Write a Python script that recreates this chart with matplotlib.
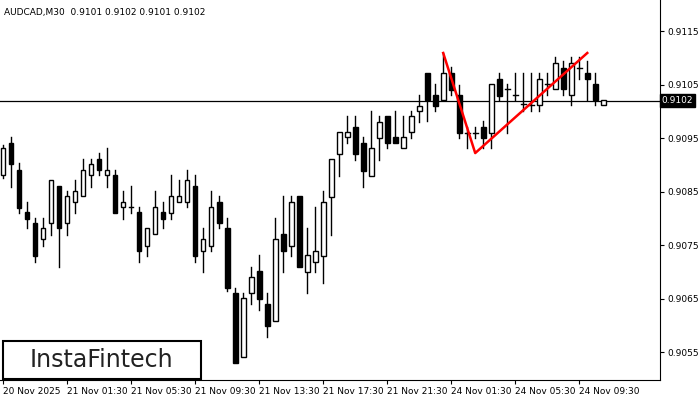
import matplotlib.pyplot as plt
from matplotlib.patches import Rectangle

# 30-minute AUDCAD candles
opens = [0.90881, 0.90941, 0.90890, 0.90812, 0.90791, 0.90761, 0.90791, 0.90860, 0.90791, 0.90831,
         0.90842, 0.90881, 0.90911, 0.90881, 0.90881, 0.90821, 0.90821, 0.90812, 0.90748, 0.90771,
         0.90812, 0.90810, 0.90831, 0.90831, 0.90860, 0.90739, 0.90748, 0.90831, 0.90782, 0.90660,
         0.90541, 0.90660, 0.90701, 0.90640, 0.90608, 0.90771, 0.90748, 0.90842, 0.90700, 0.90718,
         0.90730, 0.90840, 0.90920, 0.90952, 0.90971, 0.90941, 0.90879, 0.90950, 0.90991, 0.90952,
         0.90931, 0.90961, 0.91001, 0.91072, 0.91031, 0.91021, 0.91072, 0.91031, 0.90960, 0.90960,
         0.90971, 0.90960, 0.91061, 0.91042, 0.91031, 0.91014, 0.91012, 0.91012, 0.91051, 0.91042,
         0.91081, 0.91031, 0.91081, 0.91072, 0.91051, 0.91012]
closes = [0.90931, 0.90902, 0.90819, 0.90799, 0.90730, 0.90782, 0.90872, 0.90782, 0.90842, 0.90851,
          0.90890, 0.90902, 0.90890, 0.90890, 0.90810, 0.90831, 0.90821, 0.90739, 0.90782, 0.90821,
          0.90799, 0.90842, 0.90842, 0.90872, 0.90730, 0.90761, 0.90821, 0.90791, 0.90670, 0.90530,
          0.90651, 0.90690, 0.90649, 0.90599, 0.90761, 0.90739, 0.90831, 0.90709, 0.90731, 0.90739,
          0.90831, 0.90911, 0.90961, 0.90961, 0.90920, 0.90888, 0.90931, 0.90980, 0.90941, 0.90941,
          0.90952, 0.90991, 0.91010, 0.91021, 0.91010, 0.91072, 0.91040, 0.90960, 0.90960, 0.90960,
          0.90950, 0.91051, 0.91029, 0.91042, 0.91031, 0.91014, 0.91012, 0.91061, 0.91051, 0.91090,
          0.91042, 0.91090, 0.91081, 0.91061, 0.91021, 0.91021]
highs = [0.90937, 0.90952, 0.90903, 0.90831, 0.90801, 0.90801, 0.90872, 0.90860, 0.90851, 0.90872,
         0.90911, 0.90911, 0.90922, 0.90931, 0.90890, 0.90851, 0.90860, 0.90821, 0.90782, 0.90851,
         0.90831, 0.90881, 0.90872, 0.90890, 0.90881, 0.90782, 0.90851, 0.90842, 0.90801, 0.90670,
         0.90660, 0.90710, 0.90731, 0.90660, 0.90801, 0.90842, 0.90842, 0.90842, 0.90782, 0.90821,
         0.90851, 0.90911, 0.90961, 0.90991, 0.90991, 0.90952, 0.91001, 0.90991, 0.90991, 0.91001,
         0.90991, 0.91001, 0.91031, 0.91072, 0.91051, 0.91109, 0.91083, 0.91049, 0.90971, 0.90971,
         0.90982, 0.91051, 0.91072, 0.91051, 0.91072, 0.91072, 0.91072, 0.91072, 0.91072, 0.91102,
         0.91094, 0.91102, 0.91102, 0.91094, 0.91072, 0.91021]
lows = [0.90875, 0.90859, 0.90810, 0.90782, 0.90718, 0.90748, 0.90769, 0.90709, 0.90769, 0.90810,
        0.90842, 0.90859, 0.90881, 0.90859, 0.90810, 0.90799, 0.90810, 0.90718, 0.90730, 0.90771,
        0.90782, 0.90799, 0.90831, 0.90821, 0.90718, 0.90699, 0.90739, 0.90782, 0.90665, 0.90530,
        0.90541, 0.90640, 0.90629, 0.90578, 0.90608, 0.90700, 0.90730, 0.90709, 0.90660, 0.90700,
        0.90679, 0.90769, 0.90879, 0.90940, 0.90909, 0.90859, 0.90879, 0.90909, 0.90931, 0.90941,
        0.90931, 0.90950, 0.90980, 0.90982, 0.91001, 0.91021, 0.91030, 0.90950, 0.90931, 0.90950,
        0.90931, 0.90931, 0.91021, 0.90960, 0.91021, 0.91001, 0.91001, 0.91001, 0.91031, 0.91042,
        0.91031, 0.91012, 0.91061, 0.91021, 0.91012, 0.91012]

last_price = 0.9102
pattern_idx = [55, 59, 73]            # top - bottom - top of the red pattern
pattern_px = [0.91109, 0.90922, 0.91109]

tick_labels = ['20 Nov 2025', '21 Nov 01:30', '21 Nov 05:30', '21 Nov 09:30', '21 Nov 13:30',
               '21 Nov 17:30', '21 Nov 21:30', '24 Nov 01:30', '24 Nov 05:30', '24 Nov 09:30']
price_ticks = [0.9055, 0.9065, 0.9075, 0.9085, 0.9095, 0.9105, 0.9115]

fig = plt.figure(figsize=(7, 4), dpi=100)
ax = fig.add_axes([0, 0.05, 0.943, 0.95])

w = 0.6
for i, (o, h, l, c) in enumerate(zip(opens, highs, lows, closes)):
    lo, hi = min(o, c), max(o, c)
    ax.plot([i, i], [l, lo], color='black', lw=1)
    ax.plot([i, i], [hi, h], color='black', lw=1)
    if abs(c - o) < 0.000015:
        ax.plot([i - w / 2, i + w / 2], [o, o], color='black', lw=1)
    else:
        face = 'white' if c > o else 'black'
        ax.add_patch(Rectangle((i - w / 2, lo), w, hi - lo, facecolor=face,
                               edgecolor='black', lw=1, zorder=3))

ax.axhline(last_price, color='black', lw=0.9, zorder=1)
ax.plot(pattern_idx, pattern_px, color='red', lw=1.8, zorder=4)

ax.set_xlim(-0.375, 82.1)
ax.set_ylim(0.90498, 0.91208)
ax.set_xticks(range(0, 8 * len(tick_labels), 8))
ax.set_xticklabels(tick_labels, fontsize=6.5, ha='left')
ax.set_yticks(price_ticks)
ax.set_yticklabels([f'{p:.4f}' for p in price_ticks], fontsize=6.5)
ax.yaxis.tick_right()
ax.tick_params(length=3, pad=2)
for s in ['top', 'left']:
    ax.spines[s].set_visible(False)

ax.text(82.3, last_price, f'{last_price:.4f}', fontsize=6.5, color='white',
        va='center', ha='left', clip_on=False,
        bbox=dict(facecolor='black', edgecolor='black', pad=1.5))

fig.text(0.006, 0.97, 'AUDCAD,M30  0.9101 0.9102 0.9101 0.9102', fontsize=6.5, va='center')

logo = Rectangle((0.004, 0.053), 0.283, 0.095, transform=fig.transFigure,
                 facecolor='white', edgecolor='black', lw=1.5, zorder=5)
fig.patches.append(logo)
fig.text(0.145, 0.1, 'InstaFintech', fontsize=17, ha='center', va='center', color='#222222', zorder=6)

fig.savefig('out.png', dpi=100)
